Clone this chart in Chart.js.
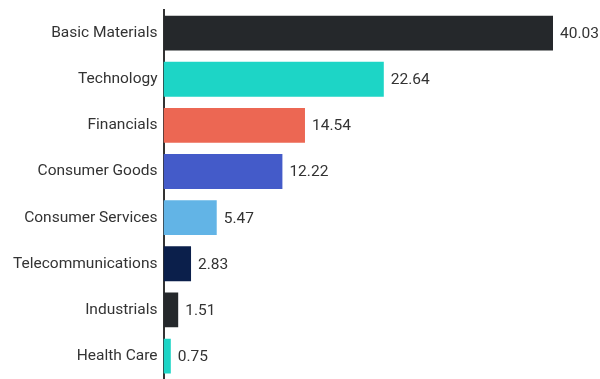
<!DOCTYPE html>
<html>
<head>
<meta charset="utf-8">
<script src="https://cdn.jsdelivr.net/npm/chart.js@4/dist/chart.umd.min.js"></script>
<style>
  html, body { margin: 0; padding: 0; background: #fff; overflow: hidden; }
  canvas { display: block; }
</style>
</head>
<body>
<canvas id="myChart" width="600" height="389"></canvas>
<script>
const sectors = ['Basic Materials', 'Technology', 'Financials', 'Consumer Goods', 'Consumer Services', 'Telecommunications', 'Industrials', 'Health Care'];
const weights = [40.03, 22.64, 14.54, 12.22, 5.47, 2.83, 1.51, 0.75];
const barColors = ['#25282b', '#1dd5c6', '#ec6753', '#445bc9', '#62b4e6', '#0b1f4b', '#25282b', '#1dd5c6'];

// value text at the end of each bar
const endLabels = {
  id: 'endLabels',
  afterDatasetsDraw(chart) {
    const ctx = chart.ctx;
    const meta = chart.getDatasetMeta(0);
    ctx.save();
    ctx.font = '15.5px Roboto';
    ctx.fillStyle = '#333';
    ctx.textAlign = 'left';
    ctx.textBaseline = 'middle';
    meta.data.forEach((bar, i) => {
      ctx.fillText(weights[i].toFixed(2), bar.x + 7, bar.y + 1);
    });
    ctx.restore();
  }
};

const ctx1 = document.getElementById('myChart').getContext('2d');
const barChart = new Chart(ctx1, {
  type: 'bar',
  data: {
    labels: sectors,
    datasets: [{
      data: weights,
      backgroundColor: barColors,
      barPercentage: 0.755,
      categoryPercentage: 1
    }]
  },
  options: {
    indexAxis: 'y',
    responsive: false,
    animation: false,
    layout: { padding: { top: 10, right: 47, bottom: 0, left: 7 } },
    plugins: {
      legend: { display: false },
      tooltip: { enabled: false }
    },
    scales: {
      x: {
        display: false,
        min: 0,
        max: 40.03
      },
      y: {
        grid: { display: false, drawTicks: false },
        border: { display: true, color: '#333', width: 2 },
        ticks: {
          color: '#333',
          padding: 6,
          font: { family: 'Roboto', size: 15.5, lineHeight: 0.5 }
        }
      }
    }
  },
  plugins: [endLabels]
});
</script>
</body>
</html>
